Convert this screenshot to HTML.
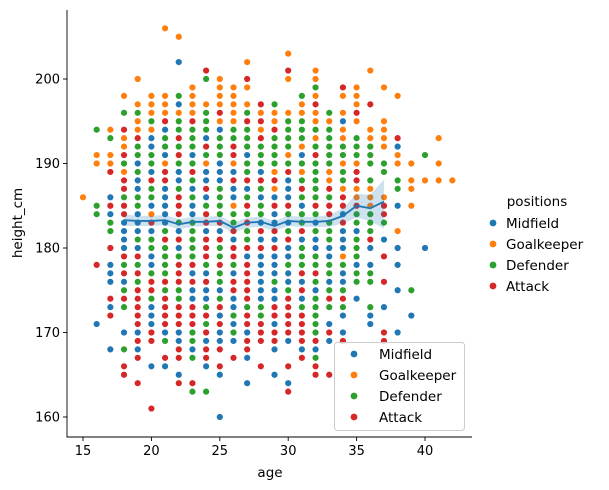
<!DOCTYPE html>
<html><head><meta charset="utf-8"><style>
html,body{margin:0;padding:0;background:#fff;}
svg{display:block;font-family:"DejaVu Sans","Liberation Sans",sans-serif;}
</style></head><body>
<svg id="chart" width="609" height="490" viewBox="0 0 609 490" xmlns="http://www.w3.org/2000/svg">
<g id="band"></g>
<g id="points"></g>
<g id="line"></g>
<g id="axes"></g>
<text x="270" y="477" font-size="13.5" text-anchor="middle">age</text>
<text x="0" y="0" font-size="13.5" text-anchor="middle" transform="translate(22,223) rotate(-90)">height_cm</text>
<g>
<text x="537" y="206" font-size="13.5" text-anchor="middle">positions</text>
<circle cx="493" cy="223" r="3.4" fill="#1f77b4"/><text x="506" y="228" font-size="13.5">Midfield</text>
<circle cx="493" cy="244" r="3.4" fill="#ff7f0e"/><text x="506" y="249" font-size="13.5">Goalkeeper</text>
<circle cx="493" cy="265" r="3.4" fill="#2ca02c"/><text x="506" y="270" font-size="13.5">Defender</text>
<circle cx="493" cy="286" r="3.4" fill="#d62728"/><text x="506" y="291" font-size="13.5">Attack</text>
</g>
<g>
<rect x="334.5" y="342.5" width="130" height="88" rx="3" fill="#fff" fill-opacity="0.8" stroke="#ccc"/>
<circle cx="354" cy="354" r="3.4" fill="#1f77b4"/><text x="379" y="359" font-size="13.5">Midfield</text>
<circle cx="354" cy="375" r="3.4" fill="#ff7f0e"/><text x="379" y="380" font-size="13.5">Goalkeeper</text>
<circle cx="354" cy="396" r="3.4" fill="#2ca02c"/><text x="379" y="401" font-size="13.5">Defender</text>
<circle cx="354" cy="417" r="3.4" fill="#d62728"/><text x="379" y="422" font-size="13.5">Attack</text>
</g>
</svg>
<script>
const xTicks=[15,20,25,30,35,40];
const yTicks=[160,170,180,190,200];
const colAges=[15,16,17,18,19,20,21,22,23,24,25,26,27,28,29,30,31,32,33,34,35,36,37,38,39,40,41,42];
const colPoints=[
"186O",
"194G 191O 190O 185G 184G 178R 171B",
"194O 193G 191O 190O 189R 186B 185R 184B 183G 182G 180R 178B 177B 176B 174R 173B 172R 168B",
"198O 196G 194R 193O 192O 191R 190G 189O 188R 187R 186G 185R 184R 183B 182B 181B 180B 179R 178G 177R 176B 175G 174R 173G 170B 168G 166R 165R",
"200O 197O 196G 195O 194O 193R 192G 191G 190B 189G 188B 187B 186G 185G 184B 183B 182B 181G 180B 179R 178G 177R 176G 175R 174R 173R 172R 171R 170B 169R 168B 167R 164R",
"198O 197O 196O 195G 194O 193B 192B 191G 190G 189B 188R 187G 186G 185B 184O 183R 182B 181G 180G 179B 178B 177G 176R 175R 174G 173B 172B 171B 170R 169R 166B 161R",
"206O 198O 197O 196O 195R 194B 193G 192G 191B 190O 189R 188R 187B 186B 185B 184B 183B 182G 181R 180G 179G 178G 177G 176R 175G 174R 173R 172R 171R 170B 169G 167R 166B",
"205O 202B 198G 197B 196O 195G 194G 193R 192G 191R 190G 189B 188B 187G 186R 185R 184R 183G 182B 181R 180B 179G 178R 177R 176R 175G 174G 173R 172R 171R 170B 169B 168R 167R 165B 164R",
"199O 198O 197O 196O 195R 194G 193G 192G 191B 190G 189R 188G 187B 186G 185B 184B 183G 182G 181G 180G 179G 178R 177B 176R 175B 174B 173R 172R 171R 170G 169G 168B 167G 164R 163G",
"201R 200G 197O 196G 195G 194G 193B 192R 191G 190O 189B 188B 187R 186B 185G 184R 183R 182B 181R 180R 179R 178G 177B 176R 175B 174B 173G 172R 171G 170R 169B 168R 167R 166B 163G",
"200O 199O 198O 197O 196R 195O 194B 193G 192G 191G 190B 189B 188B 187G 186G 185G 184G 183R 182B 181R 180G 179G 178R 177G 176G 175B 174G 173R 172B 171R 170B 169B 168R 166R 165B 160B",
"199O 198O 197O 196O 195O 194G 193G 192R 191R 190O 189B 188R 187B 186B 185O 184G 183G 182R 181B 180R 179R 178G 177B 176R 175R 174B 173B 172G 171B 170G 169B 167R",
"202O 200R 199O 197O 196G 195R 194G 193G 192G 191B 190G 189G 188R 187B 186G 185R 184G 183R 182G 181G 180R 179B 178R 177R 176R 175R 174R 173G 172R 171R 170B 169R 168R 167B 164B",
"197R 196O 195R 194O 193R 192G 191G 190G 189B 188R 187G 186B 185G 184G 183B 182R 181B 180R 179B 178B 177B 176B 175B 174B 173G 172G 171R 170R 169R 166R",
"197G 196O 195O 194R 193G 192G 191G 190G 189O 188R 187O 186B 185R 184B 183B 182R 181B 180R 179B 178B 177B 176G 175B 174B 173R 172R 171B 170R 169R 168B 165B",
"203O 201R 200O 196O 195G 194G 193G 192G 191O 190G 189R 188B 187B 186B 185R 184G 183B 182G 181R 180B 179B 178G 177B 176B 175G 174R 173R 172R 171R 170R 169B 166R 164B 163R",
"198G 197O 196O 195G 194G 193G 192O 191B 190G 189O 188G 187R 186G 185B 184G 183G 182R 181B 180G 179G 178G 177R 176B 175R 174B 173G 172R 171R 170R 169R 168B 167R",
"201O 200O 199G 198O 197R 196O 195O 194G 193O 192G 191R 190G 189G 188G 187G 186G 185R 184G 183B 182G 181B 180B 179G 178G 177R 176G 175B 174G 173G 172G 171G 170G 169R 168B 167G 166R 165R",
"196G 195O 194G 193G 192G 191G 190G 189O 188O 187R 186G 185R 184R 183G 182G 181G 180B 179B 178G 177G 176B 175G 174R 173G 171B 170R 169B 165R",
"199R 198O 196O 195B 194O 193O 192G 191G 190O 189G 188G 187O 186R 185R 184B 183R 182B 181B 180B 179O 178G 177B 176B 175G 174R 173G 172B 170B 169R",
"199O 198O 197O 196R 195O 193G 192G 191G 190O 189R 188R 187O 186O 185R 184G 183G 182B 181G 180G 179G 178B 177G 176G 174B",
"201O 197R 194O 193O 192G 191G 190G 188G 187O 186O 185O 184G 183G 182G 181R 180B 178B 177G 176G 173G 172B 171B",
"199O 195O 194O 193O 192O 190G 189G 186O 185R 184R 183G 181B 179R 176R 173B 170R 169R",
"198O 193R 192B 191O 190O 188G 187G 185B 182O 180B 178B 175B 170B",
"190O 188O 187O 185O 175G 172B",
"191G 188O 180B",
"193O 190O 188O",
"188O"
];
const lineAges=[18,19,20,21,22,23,24,25,26,27,28,29,30,31,32,33,34,35,36,37];
const lineMean=[183.3,183.2,183.2,183.3,182.8,183.1,183.1,183.2,182.4,183.0,183.1,182.6,183.2,183.1,183.1,183.2,183.8,185.0,184.7,185.5];
const lineLow=[182.6,182.6,182.6,182.7,182.2,182.5,182.6,182.6,181.8,182.4,182.5,182.0,182.6,182.5,182.5,182.5,182.9,183.6,183.2,182.3];
const lineHigh=[184.0,183.8,183.8,183.9,183.4,183.7,183.7,183.8,183.0,183.6,183.7,183.2,183.8,183.7,183.7,183.9,184.7,186.4,186.3,188.1];
const colors={B:"#1f77b4",O:"#ff7f0e",G:"#2ca02c",R:"#d62728"};
const posNames={B:"midfield",O:"goalkeeper",G:"defender",R:"attack"};
const NS="http://www.w3.org/2000/svg";
const X=a=>83+(a-15)*13.68;
const Y=h=>79+(200-h)*8.45;
function mk(tag,attrs,parent){const e=document.createElementNS(NS,tag);for(const k in attrs)e.setAttribute(k,attrs[k]);parent.appendChild(e);return e;}
const pts=document.getElementById('points');
colAges.forEach((a,i)=>{
  colPoints[i].split(' ').forEach(tok=>{
    const h=parseFloat(tok);const c=tok.slice(-1);
    const el=mk('circle',{cx:X(a),cy:Y(h),r:3.4,fill:colors[c],stroke:'#fff','stroke-width':0.6},pts);
    
    
  });
});
// CI band
let d='';
lineAges.forEach((a,i)=>{d+=(i?'L':'M')+X(a)+','+Y(lineHigh[i]);});
for(let i=lineAges.length-1;i>=0;i--)d+='L'+X(lineAges[i])+','+Y(lineLow[i]);
const band=mk('path',{d:d+'Z',fill:'#1f77b4','fill-opacity':0.22,stroke:'none'},document.getElementById('band'));


document.getElementById('band').parentNode.insertBefore(document.getElementById('points'),document.getElementById('band'));
let ld='';
lineAges.forEach((a,i)=>{ld+=(i?'L':'M')+X(a)+','+Y(lineMean[i]);});
const ln=mk('path',{d:ld,fill:'none',stroke:'#1f77b4','stroke-width':1.8},document.getElementById('line'));


// axes
const ax=document.getElementById('axes');
mk('line',{x1:67,y1:10,x2:67,y2:437.5,stroke:'#000','stroke-width':0.9},ax);
mk('line',{x1:66.5,y1:437,x2:472,y2:437,stroke:'#000','stroke-width':0.9},ax);
xTicks.forEach(t=>{
  mk('line',{x1:X(t),y1:437,x2:X(t),y2:441,stroke:'#000','stroke-width':0.9},ax);
  const tx=mk('text',{x:X(t),y:455,'font-size':13,'text-anchor':'middle'},ax);
  tx.textContent=t;
  
  
});
yTicks.forEach(t=>{
  mk('line',{x1:63,y1:Y(t),x2:67,y2:Y(t),stroke:'#000','stroke-width':0.9},ax);
  const tx=mk('text',{x:60,y:Y(t)+4.5,'font-size':13,'text-anchor':'end'},ax);
  tx.textContent=t;
  
  
});
</script>
</body></html>
